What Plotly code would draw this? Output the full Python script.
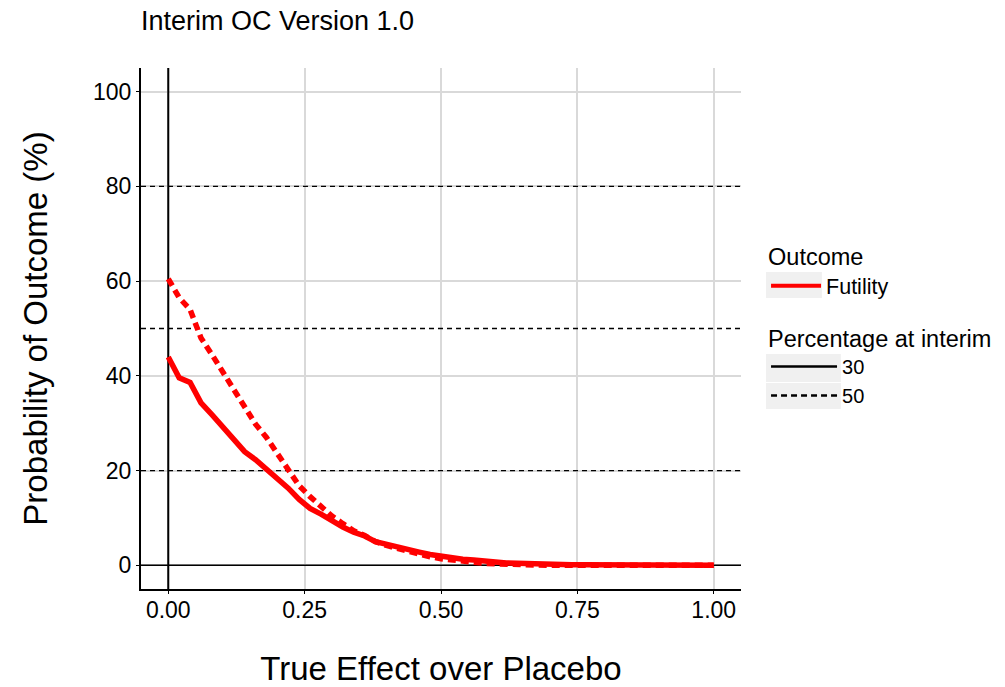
import plotly.graph_objects as go

# ---- data ----
true_effect = [round(0.02 * i, 2) for i in range(51)]

futility_30 = [44.0, 39.6, 38.6, 34.3, 31.8, 29.3, 26.5, 24.0, 22.3, 20.3,
               18.5, 16.3, 13.9, 12.0, 10.8, 9.4, 8.1, 7.0, 6.2, 5.0,
               4.4, 3.9, 3.2, 2.8, 2.3, 1.9, 1.6, 1.3, 1.1, 0.8,
               0.7, 0.5, 0.4, 0.3, 0.3, 0.2, 0.2, 0.1, 0.1, 0.1,
               0.05, 0.05, 0.0, 0.0, 0.0, 0.0, 0.0, 0.0, 0.0, 0.0, 0.0]

futility_50 = [60.5, 56.5, 54.0, 48.0, 44.5, 40.8, 37.0, 33.0, 29.8, 27.0,
               23.7, 20.0, 16.8, 14.5, 12.3, 10.4, 8.8, 7.3, 6.3, 5.0,
               4.2, 3.6, 2.8, 2.3, 1.8, 1.4, 1.1, 0.8, 0.6, 0.4,
               0.3, 0.2, 0.2, 0.1, 0.1, 0.0, 0.0, 0.0, 0.0, 0.0,
               0.0, 0.0, 0.0, 0.0, 0.0, 0.0, 0.0, 0.0, 0.0, 0.0, 0.0]

threshold_lines = [20, 50, 80]
x_range = [-0.05, 1.05]
y_range = [-5, 105]
x_ticks = [0, 0.25, 0.5, 0.75, 1.0]
x_tick_labels = ["0.00", "0.25", "0.50", "0.75", "1.00"]
y_ticks = [0, 20, 40, 60, 80, 100]

FONT = "Liberation Sans, Arial, sans-serif"
RED = "#ff0000"
KEY_BG = "#f0f0f0"

fig = go.Figure()

# reference lines (as traces so they sit above the grid, below the curves)
for yv in threshold_lines:
    fig.add_trace(go.Scatter(x=x_range, y=[yv, yv], mode="lines",
                             line=dict(color="black", width=1.3, dash="5px,4px"),
                             showlegend=False, hoverinfo="skip"))
fig.add_trace(go.Scatter(x=x_range, y=[0, 0], mode="lines",
                         line=dict(color="black", width=1.5),
                         showlegend=False, hoverinfo="skip"))
fig.add_trace(go.Scatter(x=[0, 0], y=y_range, mode="lines",
                         line=dict(color="black", width=2),
                         showlegend=False, hoverinfo="skip"))

fig.add_trace(go.Scatter(x=true_effect, y=futility_30, mode="lines",
                         line=dict(color=RED, width=5.5, dash="solid"),
                         showlegend=False, hoverinfo="skip"))
fig.add_trace(go.Scatter(x=true_effect, y=futility_50, mode="lines",
                         line=dict(color=RED, width=5.5, dash="8px,5px"),
                         showlegend=False, hoverinfo="skip"))

# legend entries
fig.add_trace(go.Scatter(x=[None], y=[None], mode="lines", name="Futility",
                         line=dict(color=RED, width=4), legend="legend"))
fig.add_trace(go.Scatter(x=[None], y=[None], mode="lines", name="30",
                         line=dict(color="black", width=2.5), legend="legend2"))
fig.add_trace(go.Scatter(x=[None], y=[None], mode="lines", name="50",
                         line=dict(color="black", width=2.5, dash="6px,4px"),
                         legend="legend2"))

# legend key backgrounds (paper coords)
for x0, x1, y0, y1 in [(1.0416, 1.1348, 0.5585, 0.6084),
                       (1.0416, 1.1664, 0.3973, 0.4511),
                       (1.0416, 1.1664, 0.3455, 0.3954)]:
    fig.add_shape(type="rect", xref="paper", yref="paper", x0=x0, x1=x1, y0=y0, y1=y1,
                  fillcolor=KEY_BG, line=dict(width=0), layer="below")

fig.update_layout(
    width=1005, height=687,
    plot_bgcolor="white", paper_bgcolor="white",
    margin=dict(l=141, r=263, t=68, b=98),
    font=dict(family=FONT, color="black"),
    title=dict(text="Interim OC Version 1.0", x=141 / 1005, xanchor="left",
               y=1 - 21 / 687, yanchor="middle",
               font=dict(size=27, family=FONT, color="black")),
    xaxis=dict(range=x_range, tickvals=x_ticks, ticktext=x_tick_labels,
               showgrid=True, gridcolor="#d9d9d9", gridwidth=1.5,
               zeroline=False, showline=True, linecolor="black", linewidth=2,
               ticks="outside", ticklen=3, tickcolor="black", automargin=False,
               ticklabelstandoff=-4,
               tickfont=dict(size=23, family=FONT, color="black"),
               title=dict(text="True Effect over Placebo", standoff=38,
                          font=dict(size=33, family=FONT, color="black"))),
    yaxis=dict(range=y_range, tickvals=y_ticks,
               showgrid=True, gridcolor="#d9d9d9", gridwidth=1.5,
               zeroline=False, showline=True, linecolor="black", linewidth=2,
               ticks="outside", ticklen=3, tickcolor="black", automargin=False,
               tickfont=dict(size=23, family=FONT, color="black"),
               title=dict(text="Probability of Outcome (%)", standoff=35,
                          font=dict(size=33, family=FONT, color="black"))),
    legend=dict(title=dict(text="Outcome", font=dict(size=23.5, family=FONT)),
                x=1.04, xanchor="left", y=0.68, yanchor="top",
                font=dict(size=21.5, family=FONT), itemwidth=50,
                bgcolor="rgba(0,0,0,0)"),
    legend2=dict(title=dict(text="Percentage at interim", font=dict(size=23.5, family=FONT)),
                 x=1.04, xanchor="left", y=0.523, yanchor="top",
                 font=dict(size=20, family=FONT), itemwidth=66,
                 bgcolor="rgba(0,0,0,0)", tracegroupgap=0),
)

fig.write_html("out.html", config={"displayModeBar": False},
               post_script="document.body.style.margin='0';")
